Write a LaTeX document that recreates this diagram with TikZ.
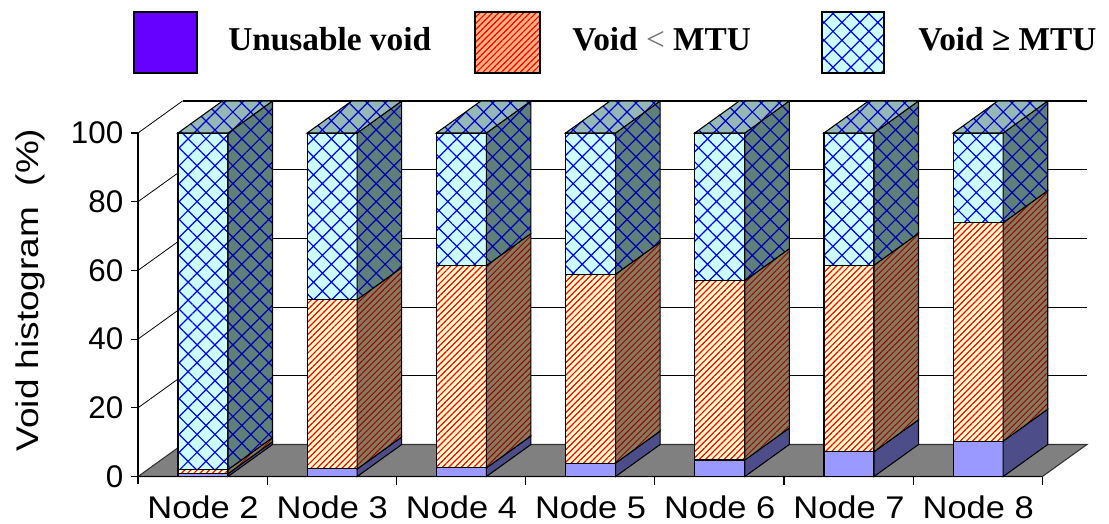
\documentclass[tikz,border=0pt]{standalone}
\usepackage{fontspec}
\setmainfont{Liberation Serif}
\setsansfont{Liberation Sans}
\usetikzlibrary{patterns.meta}

\definecolor{unfront}{HTML}{9999FF}
\definecolor{unside}{HTML}{4D4D8A}
\definecolor{unkey}{HTML}{6600FF}
\definecolor{ltfront}{HTML}{FFFFCC}
\definecolor{ltside}{HTML}{857A5C}
\definecolor{ltkey}{HTML}{FFB380}
\definecolor{gefront}{HTML}{CCFFFF}
\definecolor{geside}{HTML}{5F7F7A}
\definecolor{getop}{HTML}{93B8B5}
\definecolor{floorgray}{HTML}{808080}

\begin{document}
\begin{tikzpicture}[x=0.75pt,y=-0.75pt,
  facet/.style={draw=black,line width=0.8pt,line join=miter},
  stripes/.style={pattern={Lines[angle=45,distance=3.3pt,line width=0.9pt]}},
  sidestripes/.style={pattern={Lines[angle=45,distance=3.3pt,line width=0.7pt]}},
  diamonds/.style={pattern={Hatch[angle=45,distance=9.5pt,line width=0.9pt]}},
  unfacet/.style={facet,fill=unfront},
  unsidefacet/.style={facet,fill=unside},
  ltfacet/.style={facet,preaction={fill=ltfront},stripes,pattern color=red},
  ltsidefacet/.style={facet,preaction={fill=ltside},sidestripes,pattern color=red!60!black},
  gefacet/.style={facet,preaction={fill=gefront},diamonds,pattern color=blue},
  gesidefacet/.style={facet,preaction={fill=geside},diamonds,pattern color=blue!70!black},
  getopfacet/.style={facet,preaction={fill=getop},diamonds,pattern color=blue!80!black},
  axisfont/.style={font=\sffamily\fontsize{23.5}{23.5}\selectfont,inner sep=0pt},
  keyfont/.style={font=\rmfamily\bfseries\fontsize{25}{25}\selectfont,inner sep=0pt,anchor=base west}
]
\useasboundingbox (0,0) rectangle (1109,524);

% floor and back wall
\draw[fill=floorgray,draw=black!80,line width=0.8pt] (138,476.5) -- (1042.4,476.5) -- (1086.9,444.5) -- (182.5,444.5) -- cycle;
\foreach \k in {1,...,5}{
  \draw[line width=0.8pt] (182.5,{444.5-68.7*\k}) -- (1086.9,{444.5-68.7*\k});
  \draw[line width=0.6pt] (138,{476.5-68.7*\k}) -- ++(44.5,-32);
  \draw[line width=0.8pt] (131,{476.5-68.7*\k}) -- (138,{476.5-68.7*\k});
}
\draw[line width=0.8pt] (131,476.5) -- (138,476.5);

% axes
\draw[line width=0.9pt] (138,133) -- (138,484);
\draw[line width=0.9pt] (138,476.5) -- (1042.4,476.5);
\foreach \k in {1,...,7}
  \draw[line width=0.9pt] ({138+129.2*\k},476.5) -- ++(0,8);

% bars
\foreach \i/\u/\o in {0/0.8/2,1/2.2/51.5,2/2.5/61.4,3/3.9/58.9,4/4.8/57,5/7.2/61.5,6/10.3/73.9}{
  \pgfmathsetmacro\L{178+129.2*\i}
  \pgfmathsetmacro\R{\L+50}
  \pgfmathsetmacro\ya{476.5-3.435*\u}
  \pgfmathsetmacro\yb{476.5-3.435*\o}
  \draw[unfacet] (\L,476.5) rectangle (\R,\ya);
  \draw[ltfacet] (\L,\ya) rectangle (\R,\yb);
  \draw[gefacet] (\L,\yb) rectangle (\R,133);
  \draw[unsidefacet] (\R,476.5) -- (\R,\ya) -- ({\R+44.5},{\ya-32}) -- ({\R+44.5},444.5) -- cycle;
  \draw[ltsidefacet] (\R,\ya) -- (\R,\yb) -- ({\R+44.5},{\yb-32}) -- ({\R+44.5},{\ya-32}) -- cycle;
  \draw[gesidefacet] (\R,\yb) -- (\R,133) -- ({\R+44.5},101) -- ({\R+44.5},{\yb-32}) -- cycle;
  \draw[getopfacet] (\L,133) -- (\R,133) -- ({\R+44.5},101) -- ({\L+44.5},101) -- cycle;
  \pgfmathtruncatemacro\n{\i+2}
  \node[axisfont,anchor=base] (xlab-\n) at ({\L+25},518) {\scalebox{1.1}[1]{Node \n}};
}

% y labels
\foreach \v in {0,20,...,100}
  \node[axisfont,anchor=east] (ytick-\v) at (123.5,{476.5-3.435*\v}) {\v};
\node[axisfont,rotate=90] (ylab) at (30,290) {\scalebox{1.18}[1]{Void histogram\ \ (\%)}};

% legend
\draw[facet,fill=unkey] (134,12) rectangle (197,73);
\node[keyfont] (unusable-key) at (228,51) {Unusable void};
\draw[facet,preaction={fill=ltkey},stripes,pattern color=red] (475,12) rectangle (540,73);
\node[keyfont] (lt-key) at (572,51) {Void {\mdseries\color{black!55}<} MTU};
\draw[facet,preaction={fill=gefront},diamonds,pattern color=blue] (822,12) rectangle (884,73);
\node[keyfont] (ge-key) at (918,51) {Void ≥ MTU};
\end{tikzpicture}
\end{document}
